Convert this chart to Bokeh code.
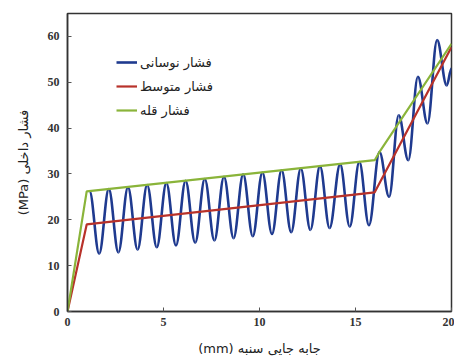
from bokeh.plotting import figure
from bokeh.models import Range1d, Legend, LegendItem, FixedTicker
from bokeh.embed import file_html
from bokeh.resources import INLINE

# ---- data ----
mean_x = [0.0, 1.0, 16.0, 20.0]
mean_y = [0.0, 19.0, 26.0, 57.7]

peak_x = [0.0, 1.0, 16.0, 16.25, 20.0]
peak_y = [0.0, 26.2, 33.0, 34.8, 58.4]

# extremes of the oscillating pressure (alternating peak / trough), then end point
osc_x = [1.15, 1.65, 2.15, 2.65, 3.15, 3.65, 4.15, 4.65, 5.15, 5.65, 6.15, 6.65,
         7.15, 7.65, 8.15, 8.65, 9.15, 9.65, 10.15, 10.65, 11.15, 11.65, 12.15, 12.65,
         13.15, 13.65, 14.2, 14.7, 15.2, 15.7, 16.25, 16.75, 17.25, 17.75, 18.25, 18.75,
         19.25, 19.75, 20.0]
osc_y = [26.2, 12.6, 26.7, 12.9, 27.1, 13.5, 27.6, 14.0, 28.0, 14.4, 28.5, 15.0,
         28.9, 15.5, 29.4, 16.0, 29.9, 16.4, 30.3, 16.9, 30.8, 17.3, 31.2, 17.8,
         31.7, 18.2, 32.1, 18.5, 32.6, 18.8, 34.8, 25.0, 42.8, 33.0, 51.2, 41.0,
         59.2, 49.3, 53.0]

x_ticks = [0, 5, 10, 15, 20]
y_ticks = [0, 10, 20, 30, 40, 50, 60]

labels = ["فشار نوسانی", "فشار متوسط", "فشار قله"]
x_label = "(mm) جابه جایی سنبه"
y_label = "(MPa) فشار داخلی"

# ---- styles ----
BLUE = "#1f3a8f"
RED = "#b8322a"
GREEN = "#8ab43a"
TICK_FONT = "Liberation Serif"
FA_FONT = "DejaVu Sans"

p = figure(width=454, height=364, output_backend="svg", toolbar_location=None,
           x_range=Range1d(0, 20), y_range=Range1d(0, 65),
           min_border_left=67, min_border_right=3, min_border_top=13, min_border_bottom=53)

p.grid.visible = False
p.outline_line_color = "#333333"
p.outline_line_width = 1.5
p.background_fill_color = "white"
p.border_fill_color = "white"

# oscillating curve as cubic Bezier pieces between consecutive extremes
x0 = osc_x[:-1]; x1 = osc_x[1:]
y0 = osc_y[:-1]; y1 = osc_y[1:]
k = 0.364
cx0 = [a + k * (b - a) for a, b in zip(x0, x1)]
cx1 = [b - k * (b - a) for a, b in zip(x0, x1)]
p.bezier(x0=x0, y0=y0, x1=x1, y1=y1, cx0=cx0, cy0=y0, cx1=cx1, cy1=y1,
         line_color=BLUE, line_width=2.6)
# single-point line used only as the legend entry for the oscillating curve
r_blue = p.line(osc_x[:1], osc_y[:1], line_color=BLUE, line_width=2.6)
r_red = p.line(mean_x, mean_y, line_color=RED, line_width=2.2)
r_green = p.line(peak_x, peak_y, line_color=GREEN, line_width=2.2)

for ax in (p.xaxis[0], p.yaxis[0]):
    ax.axis_line_color = "#333333"
    ax.axis_line_width = 1.5
    ax.major_tick_in = 4
    ax.major_tick_out = 0
    ax.major_tick_line_color = "#555555"
    ax.minor_tick_line_color = None
    ax.major_label_text_font = TICK_FONT
    ax.major_label_text_font_size = "12px"
    ax.major_label_text_font_style = "bold"
    ax.major_label_text_color = "#333333"
    ax.axis_label_text_font = FA_FONT
    ax.axis_label_text_font_style = "normal"
    ax.axis_label_text_font_size = "13px"
    ax.axis_label_text_color = "#222222"

p.xaxis.ticker = FixedTicker(ticks=x_ticks)
p.yaxis.ticker = FixedTicker(ticks=y_ticks)
p.xaxis.axis_label = x_label
p.yaxis.axis_label = y_label
p.xaxis.major_label_standoff = 6
p.yaxis.major_label_standoff = 8
p.xaxis.axis_label_standoff = 12
p.yaxis.axis_label_standoff = 14

legend = Legend(items=[LegendItem(label=labels[0], renderers=[r_blue]),
                       LegendItem(label=labels[1], renderers=[r_red]),
                       LegendItem(label=labels[2], renderers=[r_green])],
                location=(49, 191), padding=0, margin=0, spacing=4,
                glyph_width=21, glyph_height=20, label_height=20, label_standoff=3,
                border_line_color=None, background_fill_alpha=0,
                label_text_font=FA_FONT, label_text_font_size="13px",
                label_text_color="#222222")
p.add_layout(legend, "center")

open("out.html", "w").write(file_html(p, INLINE))
